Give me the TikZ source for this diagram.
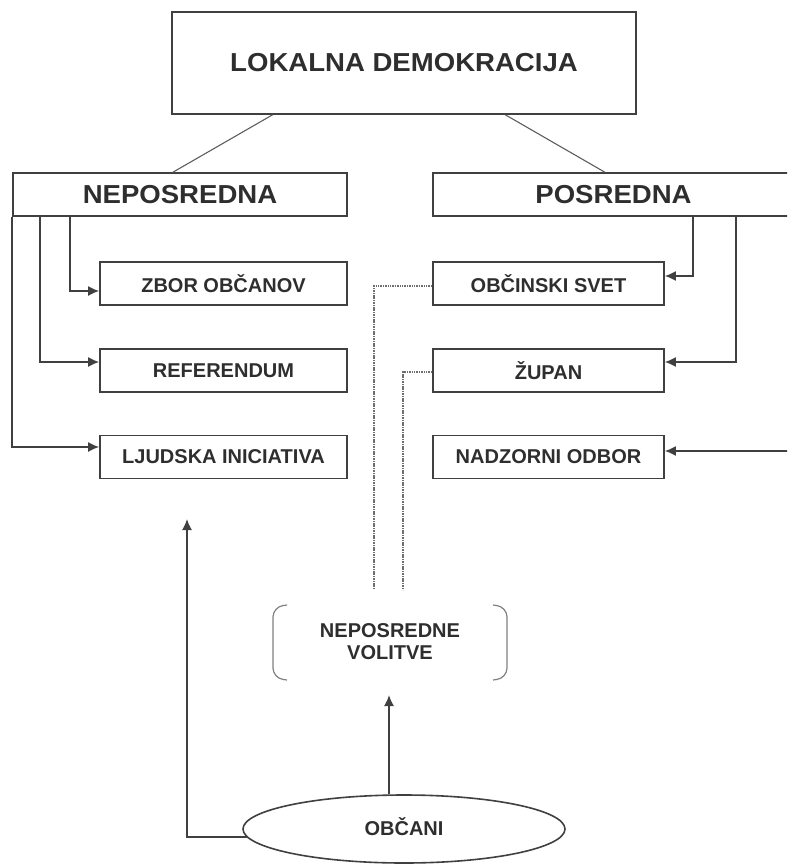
\documentclass[tikz,border=0pt]{standalone}
\usepackage{fontspec}
\setmainfont{Liberation Sans}
\usepackage{graphicx}
\usetikzlibrary{arrows.meta,calc,shapes.geometric}
\definecolor{ink}{HTML}{2E2E2E}
\definecolor{ln}{HTML}{404040}
\definecolor{dotc}{HTML}{6E6E6E}
\begin{document}
\begin{tikzpicture}[x=1pt,y=-1pt,
  box/.style={draw=ln, line width=1.6pt, inner sep=0pt, text=ink,
    font=\bfseries\fontsize{20}{23}\selectfont},
  bigbox/.style={box, font=\bfseries\fontsize{26}{30}\selectfont},
  lbox/.style={box, minimum width=247pt, minimum height=43pt},
  rbox/.style={box, minimum width=231pt, minimum height=43pt},
  arr/.style={draw=ln, line width=1.6pt, -{Latex[length=11pt,width=10pt]}},
  link/.style={draw=ln!85, line width=1.1pt},
  dots/.style={draw=dotc, line width=1.9pt, dash pattern=on 1.5pt off 0.9pt},
  brk/.style={draw=gray, line width=1.2pt, rounded corners=10pt}]
\useasboundingbox (0,0) rectangle (787,864);
\clip (0,0) rectangle (787,864);

% top
\node[bigbox, minimum width=464pt, minimum height=102pt] (lok) at (404,63)
  {\scalebox{1.06}[1]{LOKALNA DEMOKRACIJA}};
\node[bigbox, minimum width=334pt, minimum height=43pt] (nep) at (180,194.5)
  {\scalebox{1.06}[1]{NEPOSREDNA}};
\node[bigbox, minimum width=361pt, minimum height=43pt] (pos) at (613.5,194.5)
  {\scalebox{1.06}[1]{POSREDNA}};

\draw[link] ($(lok.south west)!0.2177!(lok.south east)$) -- ($(nep.north west)!0.479!(nep.north east)$);
\draw[link] ($(lok.south west)!0.7177!(lok.south east)$) -- ($(pos.north west)!0.476!(pos.north east)$);

% left column
\node[lbox] (zbor) at (223.5,283.5) {ZBOR OBČANOV};
\node[lbox] (ref) at (223.5,370.5) {REFERENDUM};
\node[lbox] (lji) at (223.5,457) {LJUDSKA INICIATIVA};

% right column
\node[rbox] (obc) at (548.5,283.5) {OBČINSKI SVET};
\node[rbox] (zup) at (548.5,370.5) {ŽUPAN};
\node[rbox] (nad) at (548.5,457) {NADZORNI ODBOR};

% left arrows
\draw[arr] ($(nep.south west)+(58,0)$) |- ($(zbor.west)+(0,7.5)$);
\draw[arr] ($(nep.south west)+(28,0)$) |- ($(ref.west)+(0,-8.5)$);
\draw[arr] (nep.south west) |- ($(lji.west)+(0,-10)$);

% right arrows
\draw[arr] ($(pos.south west)+(261,0)$) |- ($(obc.east)+(0,-7.5)$);
\draw[arr] ($(pos.south west)+(304,0)$) |- ($(zup.east)+(0,-8.5)$);
\coordinate (nadsrc) at (792,451);
\draw[arr] (nadsrc) -- ($(nad.east)+(0,-6)$);

% neposredne volitve
\node[text=ink, align=center, inner sep=0pt,
  font=\bfseries\fontsize{20}{22}\selectfont] (vol) at (390,642)
  {NEPOSREDNE\\VOLITVE};
\draw[brk] (287,605) -- (273,607) -- (273,678) -- (287,680);
\draw[brk] (493,605) -- (507,607) -- (507,678) -- (493,680);

% dotted lines
\coordinate (d1) at (374,590);
\coordinate (d2) at (403,590);
\draw[dots] ($(obc.west)+(0,2.5)$) -| (d1);
\draw[dots] ($(zup.west)+(0,1.5)$) -| (d2);

% obcani
\node[ellipse, draw=ln, line width=1.6pt, minimum width=322pt, minimum height=68pt,
  inner sep=0pt, text=ink, font=\bfseries\fontsize{20}{23}\selectfont] (obcani) at (404,829) {\raisebox{5pt}{OBČANI}};
\coordinate (voltip) at (389,695);
\coordinate (ljtip) at (187,519);
\draw[arr] (obcani.north -| voltip) -- (voltip);
\draw[arr] (obcani.183.3) -| (ljtip);
\end{tikzpicture}
\end{document}
